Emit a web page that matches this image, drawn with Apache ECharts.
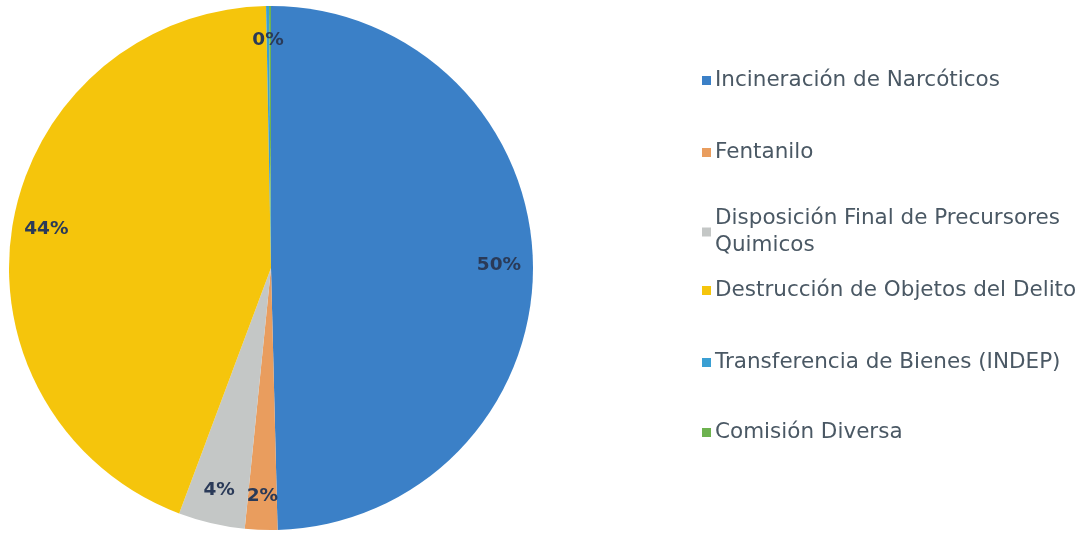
<!DOCTYPE html>
<html><head><meta charset="utf-8">
<script src="https://cdn.jsdelivr.net/npm/echarts@6/dist/echarts.min.js"></script>
<style>html,body{margin:0;padding:0;background:#fff;}#c{width:1090px;height:533px;}</style>
</head><body><div id="c"></div>
<script>
const categories = ['Incineración de Narcóticos','Fentanilo','Disposición Final de Precursores Quimicos','Destrucción de Objetos del Delito','Transferencia de Bienes (INDEP)','Comisión Diversa'];
const legendLabels = ['Incineración de Narcóticos','Fentanilo','Disposición Final de Precursores\nQuimicos','Destrucción de Objetos del Delito','Transferencia de Bienes (INDEP)','Comisión Diversa'];
const values = [49.6, 2.0, 4.1, 44.0, 0.18, 0.12];
const showLabel = [true, true, true, true, true, false];
const colors = ['#3b80c7','#e99d5e','#c4c7c6','#f5c50c','#3a9fd3','#6db24f'];
const legendTops = [62, 134, 200, 272, 344, 414];

const chart = echarts.init(document.getElementById('c'));
const data = categories.map((n,i)=>({name:n, value:values[i], itemStyle:{color:colors[i]}}));
const labelData = categories.map((n,i)=>({name:n, value:values[i], itemStyle:{color:'transparent'}, label:{show:showLabel[i]}}));
const legends = categories.map((n,i)=>({
  data:[n], left:697, top:legendTops[i], orient:'vertical', icon:'rect', itemWidth:9, itemHeight:9, itemGap:0,
  formatter:()=>legendLabels[i],
  textStyle:{fontFamily:'DejaVu Sans', fontSize:21.5, color:'#4a5864', lineHeight:27, padding:[0,0,0,-1]},
  selectedMode:false
}));
chart.setOption({
  animation:false,
  legend: legends,
  series:[
    {type:'pie', center:[271,268], radius:[0,262], startAngle:90, clockwise:true, data:data,
     label:{show:false}, labelLine:{show:false}, silent:true},
    {type:'pie', center:[271,268], radius:[188,262], startAngle:90, clockwise:true, data:labelData,
     label:{show:true, position:'inside', formatter:p=>Math.round(p.percent)+'%', fontFamily:'DejaVu Sans', fontWeight:'bold', fontSize:18.5, color:'#2a3a58'},
     labelLine:{show:false}, silent:true, legendHoverLink:false}
  ]
});
</script></body></html>
